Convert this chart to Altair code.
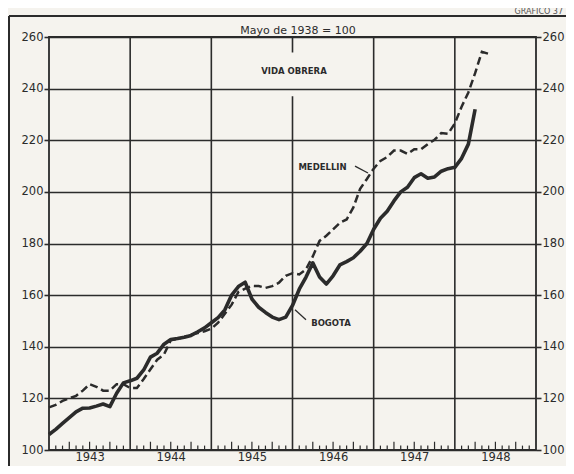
import altair as alt
import pandas as pd

# ---- data (monthly index values, Mayo de 1938 = 100) ----
start_year = 1943
bogota = [106, 108, 110.3, 112.5, 114.8, 116.2, 116.3, 117, 117.8, 116.8,
          122, 126, 126.8, 127.8, 131, 136, 137.5, 141, 142.8, 143.2,
          143.7, 144.4, 145.8, 147.3, 149.3, 151.3, 154.3, 160, 163.3, 165,
          158.5, 155.3, 153.3, 151.5, 150.5, 151.5, 156, 162.3, 167, 172.5,
          167, 164.3, 167.5, 171.7, 173, 174.5, 177, 180, 185.5, 189.8,
          192.5, 196.5, 200, 201.8, 205.5, 207, 205.3, 205.8, 208, 209,
          209.5, 213, 218.5, 232]
medellin = [116.5, 117.5, 119, 120, 121, 123, 125.5, 124.5, 123, 123,
            125.5, 125.5, 124, 124, 127.5, 131.3, 135, 137, 142.5, 143,
            143.8, 144.7, 145.3, 146, 147, 149.3, 152.8, 156.3, 161.2, 162.5,
            163.6, 163.5, 162.8, 163.5, 164.8, 167.5, 168.5, 168, 170, 175,
            181, 183, 185.5, 188, 189.3, 194, 201.2, 205, 209, 212,
            213.5, 216, 216, 214.7, 216.5, 216.5, 218.5, 220.2, 222.8, 222.5,
            226.5, 233, 238.5, 246, 254.3, 253.5]
year_labels = [1943, 1944, 1945, 1946, 1947, 1948]
y_ticks = [100, 120, 140, 160, 180, 200, 220, 240, 260]

INK = "#2b2b2b"
FONT = "DejaVu Sans"

bog_df = pd.DataFrame({"t": [start_year + k / 12 for k in range(len(bogota))], "v": bogota})
med_df = pd.DataFrame({"t": [start_year + k / 12 for k in range(len(medellin))], "v": medellin})

xs = alt.Scale(domain=[1943, 1949], nice=False, zero=False)
ys = alt.Scale(domain=[100, 260], nice=False, zero=False)

xaxis = alt.Axis(values=[y + 0.5 for y in year_labels], labelExpr="floor(datum.value)",
                 ticks=False, tickSize=0, domain=False, grid=False, labelPadding=1,
                 labelFontSize=11.5, labelColor=INK, labelFont=FONT, title=None)

def X(field="t"):
    return alt.X(f"{field}:Q", scale=xs, axis=xaxis)

def Y(field="v"):
    return alt.Y(f"{field}:Q", scale=ys, axis=None)

tick_df = pd.DataFrame({"v": y_ticks})
left_axis = alt.Chart(tick_df).mark_rule(opacity=0).encode(
    x=alt.X("xx:Q", scale=xs, axis=xaxis),
    y=alt.Y("v:Q", scale=ys, axis=alt.Axis(
        values=y_ticks, grid=True, gridColor=INK, gridWidth=1.6, gridOpacity=1,
        tickSize=5, tickColor=INK, tickWidth=1.6, domain=False, labelPadding=1,
        labelFontSize=11.5, labelColor=INK, labelFont=FONT, title=None))
).transform_calculate(xx="1943")
right_axis = alt.Chart(tick_df).mark_rule(opacity=0).encode(
    x=alt.X("xx:Q", scale=xs, axis=xaxis),
    y=alt.Y("v:Q", scale=ys, axis=alt.Axis(
        orient="right", values=y_ticks, grid=False,
        tickSize=5, tickColor=INK, tickWidth=1.6, domain=False, labelPadding=1,
        labelFontSize=11.5, labelColor=INK, labelFont=FONT, title=None))
).transform_calculate(xx="1943")

# vertical year grid lines (1946 line interrupted behind the heading)
vgrid_df = pd.DataFrame({
    "t": [1944, 1945, 1946, 1946, 1947, 1948],
    "y0": [100, 100, 100, 254, 100, 100],
    "y1": [260, 260, 237, 260, 260, 260],
})
vgrid = alt.Chart(vgrid_df).mark_rule(color=INK, strokeWidth=1.6).encode(
    x=X(), y=Y("y0"), y2="y1")

# monthly ticks along the bottom
mt = [k for k in range(1, 72) if k % 12 != 0]
mticks_df = pd.DataFrame({
    "t": [start_year + k / 12 for k in mt],
    "y0": [100] * len(mt),
    "y1": [100 + (3.2 if k % 3 == 0 else 1.7) for k in mt],
})
mticks = alt.Chart(mticks_df).mark_rule(color=INK, strokeWidth=1.2).encode(
    x=X(), y=Y("y0"), y2="y1")

bog_line = alt.Chart(bog_df).mark_line(color=INK, strokeWidth=3.6, strokeJoin="round").encode(
    x=X(), y=Y())
med_line = alt.Chart(med_df).mark_line(color=INK, strokeWidth=2.5, strokeDash=[8, 4]).encode(
    x=X(), y=Y())

labels_df = pd.DataFrame({
    "t": [1946.37, 1946.474, 1946.018],
    "v": [209.6, 149.2, 246.9],
    "txt": ["MEDELLIN", "BOGOTA", "VIDA OBRERA"],
})
labels = alt.Chart(labels_df).mark_text(color=INK, font=FONT, fontSize=8.5, fontWeight="bold").encode(
    x=X(), y=Y(), text="txt:N")

lead_df = pd.DataFrame({
    "t": [1946.77, 1946.031], "v": [210, 154.3],
    "t2": [1946.93, 1946.166], "v2": [207.3, 150.5],
})
leaders = alt.Chart(lead_df).mark_rule(color=INK, strokeWidth=1.3).encode(
    x=X(), y=Y(), x2="t2", y2="v2")

title = alt.Chart(pd.DataFrame({"s": ["Mayo de 1938 = 100"]})).mark_text(
    color=INK, font=FONT, fontSize=11).encode(
    x=alt.value(249), y=alt.value(-6), text="s:N")
grafico = alt.Chart(pd.DataFrame({"s": ["GRAFICO  37"]})).mark_text(
    color="#555555", font=FONT, fontSize=8, align="right", baseline="alphabetic").encode(
    x=alt.value(514), y=alt.value(-23), text="s:N")

frame_left = alt.Chart(pd.DataFrame({"a": [0]})).mark_rule(color=INK, strokeWidth=2).encode(
    x=alt.value(-40), y=alt.value(-21), y2=alt.value(430))
frame_top = alt.Chart(pd.DataFrame({"a": [0]})).mark_rule(color=INK, strokeWidth=2).encode(
    x=alt.value(-40), x2=alt.value(540), y=alt.value(-21))

chart = alt.layer(
    left_axis, right_axis, vgrid, mticks, med_line, bog_line, labels, leaders,
    title, grafico, frame_left, frame_top
).resolve_scale(y="independent").properties(
    width=487, height=413,
    autosize=alt.AutoSizeParams(type="none"),
    padding={"left": 41, "top": 29, "right": 30, "bottom": 16},
    background="#f5f3ee",
).configure_view(stroke=INK, strokeWidth=1.8)

chart.save("out.html", embed_options={"renderer": "svg", "actions": False})
